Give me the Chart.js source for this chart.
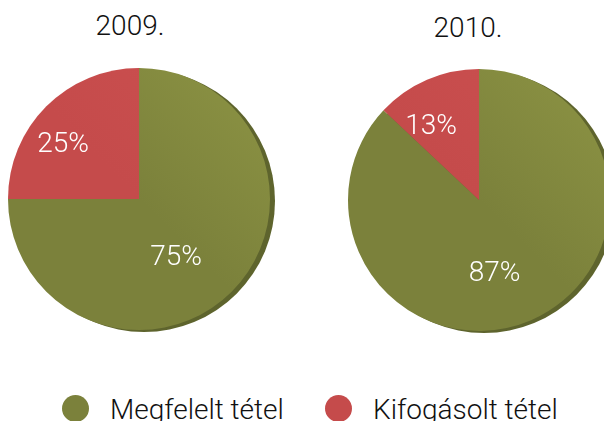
<!DOCTYPE html>
<html lang="hu">
<head>
  <meta charset="UTF-8" />
  <title>Megfelelt / Kifogásolt tétel 2009-2010</title>
  <script src="https://cdn.jsdelivr.net/npm/chart.js"></script>
  <style>
    body { margin: 0; background: #fff; width: 604px; height: 421px; overflow: hidden; position: relative; font-family: Roboto, "Liberation Sans", Arial, sans-serif; font-weight: 300; }
    .title { position: absolute; width: 200px; text-align: center; font-size: 28px; line-height: 28px; color: #111; }
    canvas { position: absolute; }
    .legend { position: absolute; top: 396px; left: 0; font-size: 28px; line-height: 28px; color: #111; }
    .legend span.dot { position: absolute; width: 27px; height: 27px; border-radius: 50%; }
    .legend span.txt { position: absolute; white-space: nowrap; }
  </style>
</head>
<body>
  <div class="title" id="t0" style="left:30px; top:12px;"></div>
  <div class="title" id="t1" style="left:368px; top:14px;"></div>
  <canvas id="pie2009" width="280" height="280" style="left:-1px; top:59px;"></canvas>
  <canvas id="pie2010" width="280" height="280" style="left:339px; top:60px;"></canvas>
  <div class="legend" id="legend"></div>

  <script>
    // data
    const years = ['2009.', '2010.'];
    const categories = ['Megfelelt tétel', 'Kifogásolt tétel'];
    const values2009 = [75, 25];
    const values2010 = [87, 13];
    const colors = ['#7b813b', '#c54b4b'];
    const lightColors = ['#8d9444', '#cc5050'];
    const depthColor = '#5e642d';

    document.getElementById('t0').innerText = years[0];
    document.getElementById('t1').innerText = years[1];

    // legend
    const legend = document.getElementById('legend');
    const legendX = [62, 325];
    categories.forEach((c, i) => {
      const dot = document.createElement('span');
      dot.className = 'dot';
      dot.style.left = legendX[i] + 'px';
      dot.style.top = '-1px';
      dot.style.background = colors[i];
      const txt = document.createElement('span');
      txt.className = 'txt';
      txt.style.left = (legendX[i] + 48) + 'px';
      txt.style.top = '0px';
      txt.innerText = c;
      legend.appendChild(dot);
      legend.appendChild(txt);
    });

    // darker rim behind the disc (the tilted look of the original)
    const depthPlugin = {
      id: 'depth',
      beforeDatasetsDraw(chart) {
        const arc = chart.getDatasetMeta(0).data[0];
        if (!arc) return;
        const ctx = chart.ctx;
        ctx.save();
        ctx.fillStyle = depthColor;
        ctx.beginPath();
        ctx.arc(arc.x + 5, arc.y + 2, arc.outerRadius, 0, Math.PI * 2);
        ctx.fill();
        ctx.restore();
      }
    };

    // percent labels; the original is tilted so they sit a bit down-left of the true centre
    const labelPlugin = {
      id: 'pctLabels',
      afterDatasetsDraw(chart) {
        const ctx = chart.ctx;
        const ds = chart.data.datasets[0];
        ctx.save();
        ctx.fillStyle = '#fff';
        ctx.font = '300 28px Roboto, "Liberation Sans", Arial, sans-serif';
        ctx.textAlign = 'center';
        ctx.textBaseline = 'middle';
        chart.getDatasetMeta(0).data.forEach((arc, i) => {
          const mid = (arc.startAngle + arc.endAngle) / 2;
          const r = arc.outerRadius * (i === 1 ? 0.69 : 0.53);
          ctx.fillText(ds.data[i] + '%', arc.x - 12 + Math.cos(mid) * r, arc.y + 10 + Math.sin(mid) * r);
        });
        ctx.restore();
      }
    };

    function sliceFill(context) {
      const chart = context.chart;
      const area = chart.chartArea;
      if (!area) return colors[context.dataIndex];
      const g = chart.ctx.createLinearGradient(area.right, area.top, area.left, area.bottom);
      g.addColorStop(0, lightColors[context.dataIndex]);
      g.addColorStop(0.5, colors[context.dataIndex]);
      g.addColorStop(1, colors[context.dataIndex]);
      return g;
    }

    function makePie(id, values) {
      return new Chart(document.getElementById(id), {
        type: 'pie',
        data: {
          labels: categories,
          datasets: [{ data: values, backgroundColor: sliceFill, borderWidth: 0 }]
        },
        options: {
          responsive: false,
          animation: false,
          layout: { padding: 9 },
          plugins: { legend: { display: false }, tooltip: { enabled: false } }
        },
        plugins: [depthPlugin, labelPlugin]
      });
    }

    makePie('pie2009', values2009);
    makePie('pie2010', values2010);
  </script>
</body>
</html>
